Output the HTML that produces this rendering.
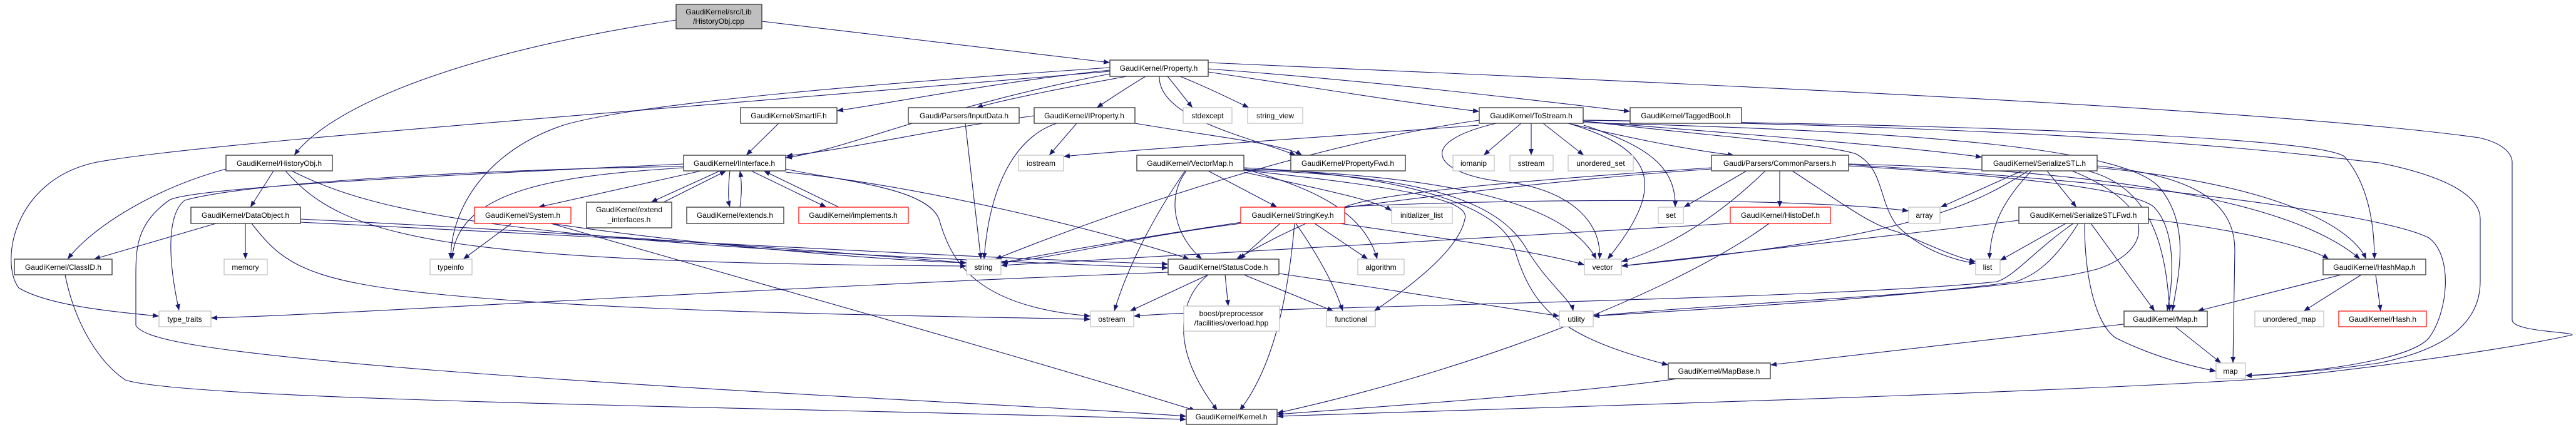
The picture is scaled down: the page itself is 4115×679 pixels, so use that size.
<!DOCTYPE html>
<html><head><meta charset="utf-8"><style>
html,body{margin:0;padding:0;background:#fff;}
svg{display:block;}
text{font-family:"Liberation Sans",Arial,sans-serif;font-size:12px;fill:#000;text-anchor:middle;}
.e{fill:none;stroke:#191970;stroke-width:1.1;marker-end:url(#a);}
.n{fill:#fff;stroke:#404040;stroke-width:1.4;}
.g{fill:#fff;stroke:#bfbfbf;stroke-width:1.2;}
.r{fill:#fff;stroke:#ff0000;stroke-width:1.2;}
</style></head><body>
<svg width="4115" height="679" viewBox="0 0 4115 679" xmlns="http://www.w3.org/2000/svg">
<defs><marker id="a" markerWidth="11" markerHeight="8" refX="10" refY="4" orient="auto" markerUnits="userSpaceOnUse"><path d="M0,0 L10,4 L0,8 z" fill="#191970"/></marker></defs>
<g>
<path class="e" d="M1080 32 C700 90,520 180,470 248"/>
<path class="e" d="M1217 34 C1450 60,1650 85,1773 100"/>
<path class="e" d="M1773 112 C1600 130,1450 160,1337 177"/>
<path class="e" d="M1800 122 C1700 140,1600 160,1560 172"/>
<path class="e" d="M1830 122 C1800 140,1770 160,1752 172"/>
<path class="e" d="M1865 122 C1880 140,1895 160,1905 172"/>
<path class="e" d="M1885 122 C1930 140,1970 160,1995 172"/>
<path class="e" d="M1930 115 C2100 140,2250 165,2363 178"/>
<path class="e" d="M1930 110 C2200 130,2450 160,2604 178"/>
<path class="e" d="M1852 122 C1850 190,2000 220,2070 248"/>
<path class="e" d="M1773 118 C1500 170,1350 240,1255 252"/>
<path class="e" d="M1773 114 C1000 180,300 230,150 260 C20 290,0 420,30 460 C80 490,200 500,254 505"/>
<path class="e" d="M1773 108 C1300 140,1000 170,900 200 C780 240,720 330,720 414"/>
<path class="e" d="M1930 100 C2600 130,3600 170,3960 220 C4005 230,4013 250,4013 259 L4013 511 C4013 530,4109 530,4109 535 C4000 560,3700 600,3587 607 C3200 630,2500 650,2040 665"/>
<path class="e" d="M437 273 L400 331"/>
<path class="e" d="M361 270 C250 300,150 360,108 414"/>
<path class="e" d="M456 273 C550 380,700 420,1544 425"/>
<path class="e" d="M466 273 C600 340,800 390,1866 428"/>
<path class="e" d="M345 357 L150 414"/>
<path class="e" d="M392 357 L392 414"/>
<path class="e" d="M480 350 C900 370,1300 400,1544 420"/>
<path class="e" d="M480 355 C1000 380,1500 410,1866 422"/>
<path class="e" d="M402 357 C450 420,490 450,700 470 C1000 500,1500 505,1742 510"/>
<path class="e" d="M104 439 C120 520,160 580,200 607 C300 640,1200 650,1895 670"/>
<path class="e" d="M1120 273 L860 331"/>
<path class="e" d="M1150 273 L1040 323"/>
<path class="e" d="M1060 323 L1160 273"/>
<path class="e" d="M1166 273 C1163 300,1163 320,1166 331"/>
<path class="e" d="M1182 331 C1185 310,1185 290,1182 273"/>
<path class="e" d="M1200 273 L1320 331"/>
<path class="e" d="M1340 331 L1220 273"/>
<path class="e" d="M1092 268 C900 280,730 300,722 414"/>
<path class="e" d="M1255 275 C1500 300,1800 380,1900 414"/>
<path class="e" d="M1255 270 C1350 290,1480 300,1500 350 C1520 420,1560 490,1742 505"/>
<path class="e" d="M1092 262 C700 280,300 300,270 320 C215 360,217 400,217 450 L217 520 C230 540,300 560,700 592 C1200 630,1700 650,1895 665"/>
<path class="e" d="M1092 266 C800 270,400 290,295 320 C270 340,265 400,286 496"/>
<path class="e" d="M1866 435 C1200 460,600 500,337 508"/>
<path class="e" d="M817 357 L740 414"/>
<path class="e" d="M880 357 C1100 390,1400 415,1544 420"/>
<path class="e" d="M880 357 C1200 450,1600 560,1910 656"/>
<path class="e" d="M1542 197 L1567 414"/>
<path class="e" d="M1652 185 C1500 205,1350 240,1256 249"/>
<path class="e" d="M1720 197 L1676 248"/>
<path class="e" d="M1688 197 C1620 220,1580 300,1572 414"/>
<path class="e" d="M1813 197 C1950 220,2050 230,2080 248"/>
<path class="e" d="M1244 197 L1192 248"/>
<path class="e" d="M2430 197 L2370 248"/>
<path class="e" d="M2446 197 L2446 248"/>
<path class="e" d="M2465 197 L2530 248"/>
<path class="e" d="M2530 200 C2620 230,2678 260,2676 331"/>
<path class="e" d="M2505 197 C2650 240,2660 300,2568 414"/>
<path class="e" d="M2390 197 C2250 230,2300 280,2400 290 C2500 300,2560 350,2555 414"/>
<path class="e" d="M2529 193 C2700 215,2920 230,2965 246 C3010 270,3000 320,3030 360 C3070 400,3120 415,3156 421"/>
<path class="e" d="M2505 197 C2600 220,2700 240,2770 248"/>
<path class="e" d="M2529 194 C2800 215,3050 235,3166 251"/>
<path class="e" d="M2363 192 C2100 230,1800 330,1590 414"/>
<path class="e" d="M2363 200 C2100 220,1800 240,1699 250"/>
<path class="e" d="M2529 192 C3200 200,3700 220,3745 250 C3780 290,3793 350,3793 414"/>
<path class="e" d="M2529 192 C3400 205,3700 250,3800 260 C3900 280,3962 310,3962 350 L3962 450 C3962 520,3900 560,3800 580 C3700 595,3600 600,3587 600"/>
<path class="e" d="M2529 196 C3100 210,3400 240,3450 300 C3500 360,3480 440,3470 497"/>
<path class="e" d="M1930 273 L2040 331"/>
<path class="e" d="M1895 273 C1860 320,1880 380,1920 414"/>
<path class="e" d="M1893 273 C1840 350,1800 430,1780 497"/>
<path class="e" d="M1987 270 C2100 300,2180 340,2200 414"/>
<path class="e" d="M1987 275 C2100 300,2200 320,2223 337"/>
<path class="e" d="M1987 272 C2250 300,2350 320,2340 350 C2330 400,2250 460,2195 497"/>
<path class="e" d="M1987 272 C2300 280,2400 330,2440 400 C2470 450,2510 480,2513 497"/>
<path class="e" d="M1987 268 C2250 280,2400 330,2420 400 C2450 500,2500 540,2665 583"/>
<path class="e" d="M1987 270 C2300 280,2500 320,2550 414"/>
<path class="e" d="M1982 357 C1800 380,1700 410,1599 420"/>
<path class="e" d="M2045 357 L1980 414"/>
<path class="e" d="M2100 357 L2185 414"/>
<path class="e" d="M2140 357 C2300 380,2450 400,2531 423"/>
<path class="e" d="M2070 357 C2100 400,2130 450,2145 497"/>
<path class="e" d="M2068 357 C2060 450,2040 580,1980 656"/>
<path class="e" d="M1930 439 L1805 497"/>
<path class="e" d="M1957 439 L1962 489"/>
<path class="e" d="M1987 439 L2130 497"/>
<path class="e" d="M2043 437 C2200 460,2400 490,2491 505"/>
<path class="e" d="M1930 439 C1880 480,1870 560,1945 656"/>
<path class="e" d="M2843 273 L2843 331"/>
<path class="e" d="M2790 273 L2690 331"/>
<path class="e" d="M2820 273 C2730 360,2650 400,2590 418"/>
<path class="e" d="M2863 273 C2950 330,2990 360,3030 370 C3080 390,3120 410,3156 418"/>
<path class="e" d="M2148 330 C2500 315,2900 318,3049 337"/>
<path class="e" d="M2953 265 C3200 280,3400 300,3440 330 C3480 370,3470 460,3462 497"/>
<path class="e" d="M2734 268 C2400 290,2200 310,2150 330 C2050 370,2000 400,1975 414"/>
<path class="e" d="M2734 270 C2300 300,1800 380,1600 420"/>
<path class="e" d="M2953 263 C3400 290,3800 340,3880 380 C3920 410,3910 500,3880 540 C3850 575,3700 595,3587 600"/>
<path class="e" d="M2953 262 C3300 270,3650 310,3770 414"/>
<path class="e" d="M2826 357 C2700 450,2400 580,2040 660"/>
<path class="e" d="M2764 357 C2400 380,1800 410,1599 424"/>
<path class="e" d="M3230 273 L3100 331"/>
<path class="e" d="M3245 273 C3200 320,3180 360,3178 414"/>
<path class="e" d="M3270 273 L3317 331"/>
<path class="e" d="M3335 273 C3440 300,3460 400,3466 497"/>
<path class="e" d="M3350 268 C3600 290,3750 350,3780 414"/>
<path class="e" d="M3350 265 C3500 280,3570 320,3570 400 L3567 580"/>
<path class="e" d="M3240 273 C3150 330,3050 380,2590 425"/>
<path class="e" d="M3310 273 C3450 330,3440 400,3350 430 C3200 470,2800 480,2545 505"/>
<path class="e" d="M3300 357 L3195 416"/>
<path class="e" d="M3340 357 L3442 497"/>
<path class="e" d="M3432 350 C3600 370,3700 400,3720 414"/>
<path class="e" d="M3330 357 C3330 450,3350 520,3380 540 C3440 570,3500 585,3540 593"/>
<path class="e" d="M3225 352 C3000 380,2800 400,2590 425"/>
<path class="e" d="M3312 357 C3250 400,3220 440,3190 450 C2900 480,2000 490,1811 505"/>
<path class="e" d="M3320 357 C3280 420,3250 440,3220 450 C3000 480,2700 495,2545 505"/>
<path class="e" d="M3740 439 L3510 497"/>
<path class="e" d="M3772 439 L3680 497"/>
<path class="e" d="M3795 439 L3803 497"/>
<path class="e" d="M3475 522 L3548 580"/>
<path class="e" d="M3400 517 C3200 540,2950 570,2828 583"/>
<path class="e" d="M2680 605 C2500 630,2200 650,2040 662"/>
</g>
<g>
<rect x="1080" y="7" width="137" height="39" fill="#bfbfbf" stroke="#404040" stroke-width="1.4"/>
<text x="1148" y="23">GaudiKernel/src/Lib</text><text x="1148" y="38">/HistoryObj.cpp</text>

<rect class="n" x="1773" y="96" width="157" height="26"/><text x="1851" y="113">GaudiKernel/Property.h</text>

<rect class="n" x="1183" y="172" width="154" height="25"/><text x="1260" y="189">GaudiKernel/SmartIF.h</text>
<rect class="n" x="1451" y="172" width="177" height="25"/><text x="1540" y="189">Gaudi/Parsers/InputData.h</text>
<rect class="n" x="1652" y="172" width="161" height="25"/><text x="1732" y="189">GaudiKernel/IProperty.h</text>
<rect class="g" x="1890" y="172" width="78" height="25"/><text x="1929" y="189">stdexcept</text>
<rect class="g" x="1993" y="172" width="88" height="25"/><text x="2037" y="189">string_view</text>
<rect class="n" x="2363" y="172" width="166" height="25"/><text x="2446" y="189">GaudiKernel/ToStream.h</text>
<rect class="n" x="2604" y="172" width="178" height="25"/><text x="2693" y="189">GaudiKernel/TaggedBool.h</text>

<rect class="n" x="361" y="248" width="170" height="25"/><text x="446" y="265">GaudiKernel/HistoryObj.h</text>
<rect class="n" x="1092" y="248" width="163" height="25"/><text x="1173" y="265">GaudiKernel/IInterface.h</text>
<rect class="g" x="1627" y="248" width="72" height="25"/><text x="1663" y="265">iostream</text>
<rect class="n" x="1816" y="248" width="171" height="25"/><text x="1901" y="265">GaudiKernel/VectorMap.h</text>
<rect class="n" x="2062" y="248" width="183" height="25"/><text x="2153" y="265">GaudiKernel/PropertyFwd.h</text>
<rect class="g" x="2321" y="248" width="66" height="25"/><text x="2354" y="265">iomanip</text>
<rect class="g" x="2412" y="248" width="69" height="25"/><text x="2446" y="265">sstream</text>
<rect class="g" x="2505" y="248" width="104" height="25"/><text x="2557" y="265">unordered_set</text>
<rect class="n" x="2734" y="248" width="219" height="25"/><text x="2843" y="265">Gaudi/Parsers/CommonParsers.h</text>
<rect class="n" x="3166" y="248" width="184" height="25"/><text x="3258" y="265">GaudiKernel/SerializeSTL.h</text>

<rect class="n" x="305" y="331" width="175" height="26"/><text x="392" y="348">GaudiKernel/DataObject.h</text>
<rect class="r" x="758" y="331" width="154" height="26"/><text x="835" y="348">GaudiKernel/System.h</text>
<rect class="n" x="937" y="323" width="136" height="41"/><text x="1005" y="339">GaudiKernel/extend</text><text x="1005" y="355">_interfaces.h</text>
<rect class="n" x="1097" y="331" width="155" height="26"/><text x="1174" y="348">GaudiKernel/extends.h</text>
<rect class="r" x="1276" y="331" width="175" height="26"/><text x="1363" y="348">GaudiKernel/implements.h</text>
<rect class="r" x="1982" y="331" width="166" height="26"/><text x="2065" y="348">GaudiKernel/StringKey.h</text>
<rect class="g" x="2223" y="331" width="97" height="26"/><text x="2271" y="348">initializer_list</text>
<rect class="g" x="2649" y="331" width="40" height="26"/><text x="2669" y="348">set</text>
<rect class="r" x="2764" y="331" width="160" height="26"/><text x="2844" y="348">GaudiKernel/HistoDef.h</text>
<rect class="g" x="3049" y="331" width="50" height="26"/><text x="3074" y="348">array</text>
<rect class="n" x="3225" y="331" width="207" height="26"/><text x="3328" y="348">GaudiKernel/SerializeSTLFwd.h</text>

<rect class="n" x="23" y="414" width="156" height="25"/><text x="101" y="431">GaudiKernel/ClassID.h</text>
<rect class="g" x="358" y="414" width="69" height="25"/><text x="392" y="431">memory</text>
<rect class="g" x="687" y="414" width="67" height="25"/><text x="720" y="431">typeinfo</text>
<rect class="g" x="1544" y="414" width="55" height="25"/><text x="1571" y="431">string</text>
<rect class="n" x="1866" y="414" width="177" height="25"/><text x="1954" y="431">GaudiKernel/StatusCode.h</text>
<rect class="g" x="2169" y="414" width="74" height="25"/><text x="2206" y="431">algorithm</text>
<rect class="g" x="2531" y="414" width="59" height="25"/><text x="2560" y="431">vector</text>
<rect class="g" x="3156" y="414" width="39" height="25"/><text x="3175" y="431">list</text>
<rect class="n" x="3711" y="414" width="164" height="25"/><text x="3793" y="431">GaudiKernel/HashMap.h</text>

<rect class="g" x="254" y="497" width="83" height="25"/><text x="295" y="514">type_traits</text>
<rect class="g" x="1742" y="497" width="69" height="25"/><text x="1776" y="514">ostream</text>
<rect class="g" x="1891" y="489" width="153" height="40"/><text x="1967" y="505">boost/preprocessor</text><text x="1967" y="520">/facilities/overload.hpp</text>
<rect class="g" x="2119" y="497" width="78" height="25"/><text x="2158" y="514">functional</text>
<rect class="g" x="2491" y="497" width="54" height="25"/><text x="2518" y="514">utility</text>
<rect class="n" x="3393" y="497" width="133" height="25"/><text x="3459" y="514">GaudiKernel/Map.h</text>
<rect class="g" x="3602" y="497" width="110" height="25"/><text x="3657" y="514">unordered_map</text>
<rect class="r" x="3736" y="497" width="140" height="25"/><text x="3806" y="514">GaudiKernel/Hash.h</text>

<rect class="n" x="2665" y="580" width="163" height="25"/><text x="2746" y="597">GaudiKernel/MapBase.h</text>
<rect class="g" x="3540" y="580" width="47" height="25"/><text x="3563" y="597">map</text>

<rect class="n" x="1895" y="654" width="145" height="24"/><text x="1967" y="670">GaudiKernel/Kernel.h</text>
</g>
</svg>
</body></html>
